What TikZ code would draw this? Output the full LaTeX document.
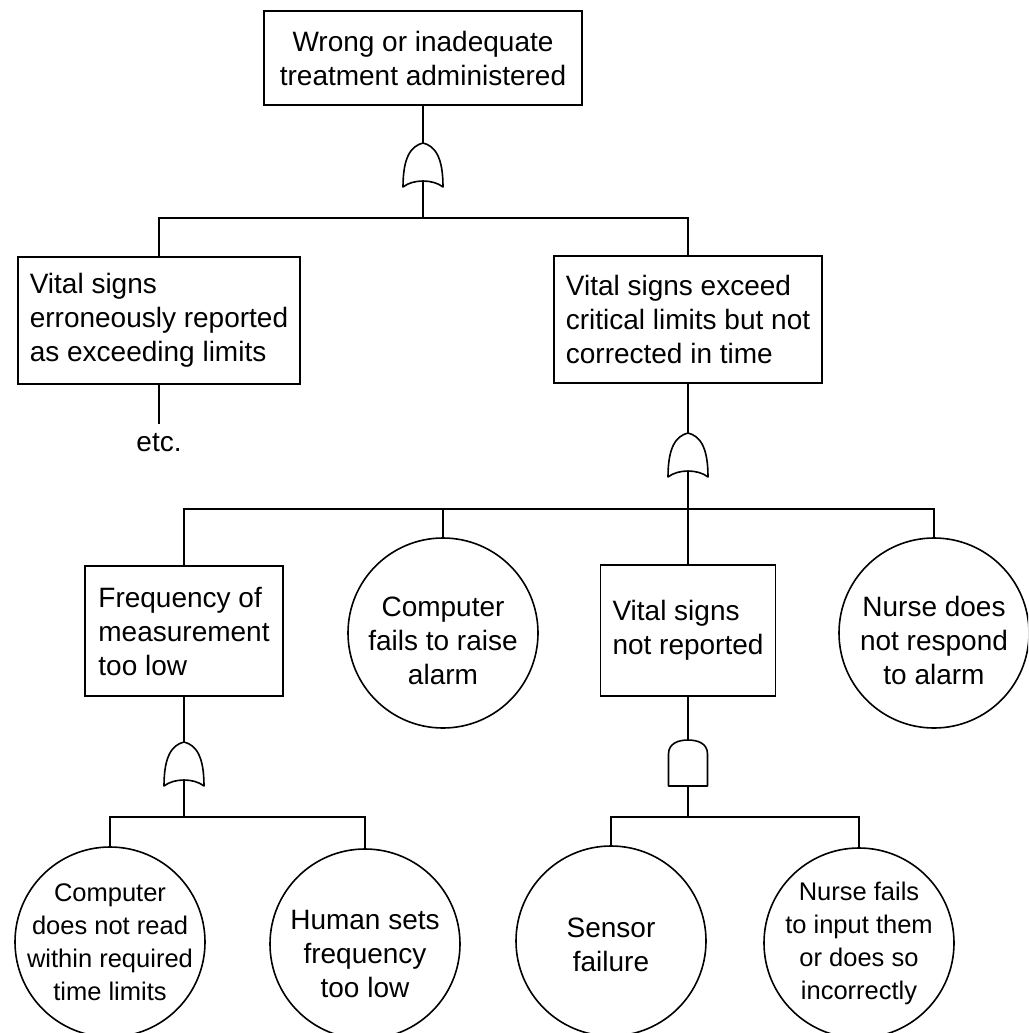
\documentclass[tikz,border=0pt]{standalone}
\usepackage{fontspec}
\setmainfont{Liberation Sans}
\tikzset{
  box/.style={draw, rectangle, inner sep=0pt, outer sep=0pt},
  evt/.style={draw, circle, minimum size=190pt, inner sep=0pt, outer sep=0pt},
  evtxt/.style={align=center, inner sep=0pt},
  smallfont/.style={font=\fontsize{25.5}{33}\selectfont},
  gatepath/.style={draw, fill=white, line join=round},
  orgt/.pic={
    \path[gatepath] (0,0) .. controls (12,3) and (20,14) .. (20,44)
      .. controls (10,36) and (-10,36) .. (-20,44)
      .. controls (-20,14) and (-12,3) .. (0,0) -- cycle;
    \coordinate (-in) at (0,0);
    \coordinate (-out) at (0,38);
  },
  andgt/.pic={
    \path[gatepath] (-19.5,46) -- (-19.5,14) .. controls (-19.5,3) and (-9,0) .. (0,0)
      .. controls (9,0) and (19.5,3) .. (19.5,14) -- (19.5,46) -- cycle;
    \coordinate (-in) at (0,0);
    \coordinate (-out) at (0,46);
  }
}
\begin{document}
\begin{tikzpicture}[x=1pt, y=-1pt, line width=1.6pt,
  every node/.style={font=\fontsize{28}{34}\selectfont}]
\path[use as bounding box] (0,0) rectangle (1028,1033);
\clip (0,0) rectangle (1028,1033);
\fill[white] (0,0) rectangle (1028,1033);

% boxes
\node[box, minimum width=318pt, minimum height=94pt, align=center] (top) at (423,58) {Wrong or inadequate\\treatment administered};
\node[box, minimum width=282pt, minimum height=127pt, align=left] (L) at (159,320.5) {Vital signs\\erroneously reported\\as exceeding limits};
\node[box, minimum width=268pt, minimum height=127pt, align=left] (R) at (688,319.5) {Vital signs exceed\\critical limits but not\\corrected in time};
\node[inner sep=10pt, outer sep=0pt] (etc) at (159,443) {etc.};
\node[box, minimum width=198pt, minimum height=130pt, align=left] (F) at (184,631) {Frequency of\\measurement\\too low};
\node[box, minimum width=175pt, minimum height=131pt, align=left] (V) at (688,630.5) {Vital signs\\not reported};

% circles
\node[evt] (C) at (443,633) {};
\node[evtxt] (Ct) at ([yshift=-8pt]C.center) {Computer\\fails to raise\\alarm};
\node[evt] (N) at (934,633) {};
\node[evtxt] (Nt) at ([yshift=-7pt]N.center) {Nurse does\\not respond\\to alarm};
\node[evt] (c1) at (110,942) {};
\node[evtxt, smallfont] (c1t) at (c1.center) {Computer\\does not read\\within required\\time limits};
\node[evt] (c2) at (365,944) {};
\node[evtxt] (c2t) at ([yshift=-10pt]c2.center) {Human sets\\frequency\\too low};
\node[evt] (s) at (611,941) {};
\node[evtxt] (st) at ([yshift=-4pt]s.center) {Sensor\\failure};
\node[evt] (nf) at (859,943) {};
\node[evtxt, smallfont] (nft) at (nf.center) {Nurse fails\\to input them\\or does so\\incorrectly};

% gates
\pic (g1) at (423,143) {orgt};
\pic (g2) at (688,433) {orgt};
\pic (g3) at (184,742) {orgt};
\pic (g4) at (688,740) {andgt};

% bar levels
\coordinate (b1) at (0,218);
\coordinate (b2) at (0,509);
\coordinate (b3) at (0,817);

% connectors
\draw (top.south) -- (g1-in);
\draw (g1-out) -- (g1-out |- b1);
\draw (L.north) -- (L.north |- b1) -- (R.north |- b1) -- (R.north);
\draw (L.south) -- (etc.north);
\draw (R.south) -- (g2-in);
\draw (g2-out) -- (V.north);
\draw (F.north) -- (F.north |- b2) -- (N.north |- b2) -- (N.north);
\draw (C.north |- b2) -- (C.north);
\draw (F.south) -- (g3-in);
\draw (g3-out) -- (g3-out |- b3);
\draw (c1.north) -- (c1.north |- b3) -- (c2.north |- b3) -- (c2.north);
\draw (V.south) -- (g4-in);
\draw (g4-out) -- (g4-out |- b3);
\draw (s.north) -- (s.north |- b3) -- (nf.north |- b3) -- (nf.north);
\end{tikzpicture}
\end{document}
